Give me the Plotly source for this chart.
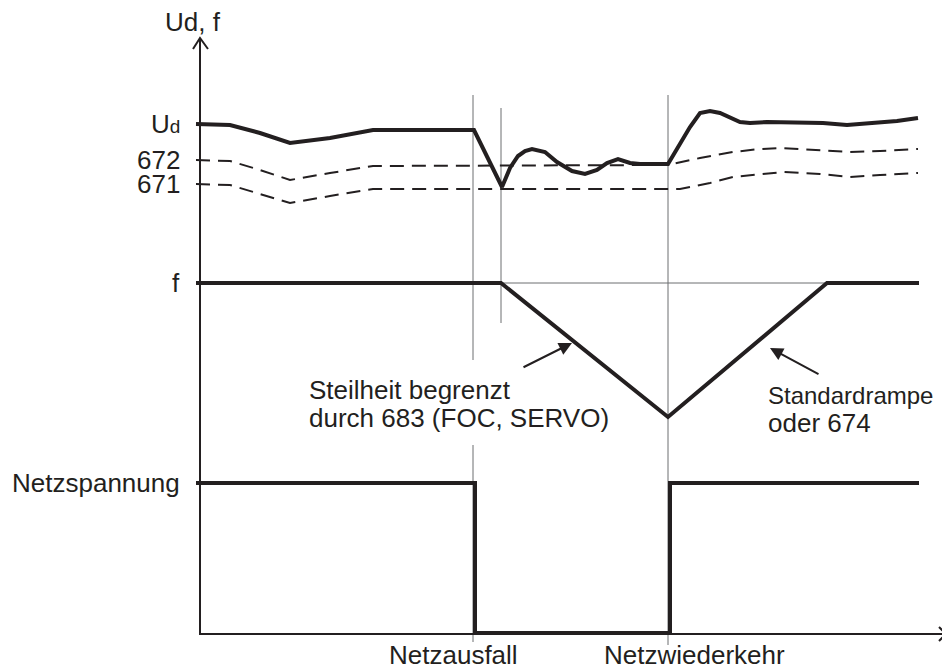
import plotly.graph_objects as go

# Zeitachse: Einheiten ab Ursprung, Pegel: Einheiten ueber der Zeitachse
ud_t = [-4, 30, 60, 90, 130, 173, 274, 302, 310, 318, 325, 332, 345, 357, 372, 385,
        397, 407, 418, 430, 440, 468, 490, 500, 510, 520, 540, 550, 567, 593, 623,
        647, 677, 697, 718]
ud_v = [510, 509, 501, 491, 496, 504, 504, 447, 466, 478, 483, 485, 482, 472, 463, 460,
        464, 471, 475, 471, 470, 470, 507, 521, 523, 521, 512, 511, 512, 512, 511,
        509, 511, 513, 516]

p672_t = [-4, 30, 60, 90, 130, 173, 468, 500, 533, 560, 580, 620, 650, 680, 718]
p672_v = [474, 473, 464, 454, 461, 468, 469, 476, 482, 485, 486, 484, 482, 483, 485]

p671_t = [-4, 30, 60, 90, 130, 173, 480, 510, 533, 583, 620, 650, 680, 718]
p671_v = [450, 449, 440, 431, 438, 445, 445, 451, 457, 462, 460, 457, 459, 461]

f_t = [-4, 301, 468, 627, 719]
f_v = [351, 351, 217, 351, 351]

netz_t = [-4, 275, 275, 470, 470, 719]
netz_v = [151, 151, 1, 1, 151, 151]

# Ereignisse
t_ausfall = 273
t_dip = 301
t_wieder = 468

level_labels = ["U<span style='font-size:19px'>d</span>", "672", "671", "f", "Netzspannung"]
level_vals = [510, 474, 450, 351, 151]

BLACK = "#231f20"
GREY = "#6d6e70"
FONT = "Liberation Sans, Arial, sans-serif"
FS = 26

fig = go.Figure()


def line(x, y, color=BLACK, width=4, dash="solid"):
    fig.add_trace(go.Scatter(x=x, y=y, mode="lines", hoverinfo="skip",
                             line=dict(color=color, width=width, dash=dash)))


# duenne Hilfslinien
line([t_ausfall, t_ausfall], [539, 274], GREY, 1)
line([t_ausfall, t_ausfall], [189, -8], GREY, 1)
line([t_dip, t_dip], [526, 311], GREY, 1)
line([t_wieder, t_wieder], [539, -11], GREY, 1)
line([f_t[1], f_t[3]], [f_v[1], f_v[3]], GREY, 1)

# Achsen mit Pfeilen
line([0, 0, 746], [596, 0, 0], BLACK, 2)
line([-7, 0, 8], [585, 596, 585], BLACK, 2)
line([739, 746, 739], [7, 0, -7], BLACK, 2)

# Kurven
line(p672_t, p672_v, BLACK, 2, "14px,8px")
line(p671_t, p671_v, BLACK, 2, "14px,8px")
line(ud_t, ud_v, BLACK, 4)
line(f_t, f_v, BLACK, 4)
line(netz_t, netz_v, BLACK, 4)

anns = []
for lab, v in zip(level_labels, level_vals):
    anns.append(dict(x=-18, y=v, text=lab, xanchor="right", yanchor="middle"))
anns += [
    dict(x=-7, y=612, text="Ud, f", xanchor="center", yanchor="middle"),
    dict(x=107, y=244, text="Steilheit begrenzt", xanchor="left", yanchor="middle"),
    dict(x=107, y=216, text="durch 683 (FOC, SERVO)", xanchor="left", yanchor="middle"),
    dict(x=566, y=239, text="Standardrampe", xanchor="left", yanchor="middle", size=24),
    dict(x=566, y=211, text="oder 674", xanchor="left", yanchor="middle"),
    dict(x=187, y=-21, text="Netzausfall", xanchor="left", yanchor="middle"),
    dict(x=402, y=-21, text="Netzwiederkehr", xanchor="left", yanchor="middle"),
]
for a in anns:
    size = a.pop("size", FS)
    a.update(xref="x", yref="y", showarrow=False, font=dict(family=FONT, size=size, color=BLACK))

for head, tail in [((372, 291), (322, 266)), ((570, 286), (620, 259))]:
    anns.append(dict(x=head[0], y=head[1], ax=tail[0], ay=tail[1], xref="x", yref="y",
                     axref="x", ayref="y", text="", showarrow=True, arrowhead=2,
                     arrowsize=1.3, arrowwidth=2, arrowcolor=BLACK, standoff=0))

# die Seite hat 8px Rand, daher 942x663
fig.update_layout(
    width=942, height=663,
    margin=dict(l=0, r=0, t=0, b=0),
    paper_bgcolor="white", plot_bgcolor="white",
    showlegend=False,
    xaxis=dict(range=[-192, 750], visible=False, fixedrange=True),
    yaxis=dict(range=[-37, 626], visible=False, fixedrange=True),
    annotations=anns,
)

fig.write_html("out.html")
